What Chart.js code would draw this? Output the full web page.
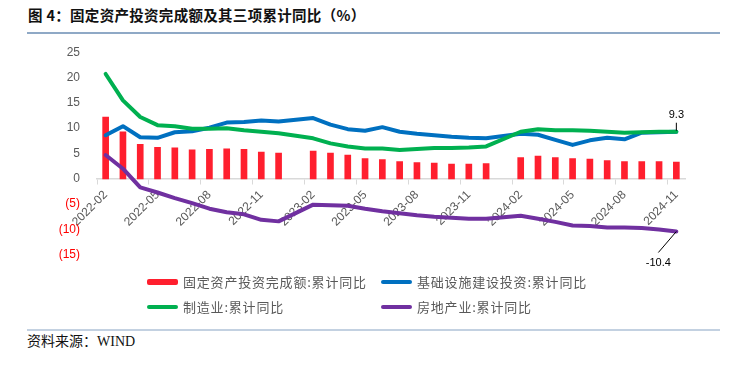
<!DOCTYPE html>
<html>
<head>
<meta charset="utf-8">
<script src="https://cdn.jsdelivr.net/npm/chart.js@4.4.1/dist/chart.umd.min.js"></script>
<style>
body{margin:0;width:730px;height:365px;background:#fff;position:relative;overflow:hidden;font-family:"Noto Sans CJK SC",sans-serif}
#title{position:absolute;left:28px;top:5px;font-size:14.5px;font-weight:bold;color:#111;letter-spacing:0.3px;white-space:nowrap;line-height:20px}
.rule{position:absolute;left:27px;width:693px;height:2px}
#box{position:absolute;left:0;top:28px;width:730px;height:251px}
.lg{position:absolute;font-size:13px;color:#595959;letter-spacing:0.8px;white-space:nowrap;line-height:16px}
.sw{position:absolute;width:31px;border-radius:2px}
#src{position:absolute;left:27px;top:332px;font-size:14px;color:#111;white-space:nowrap;line-height:20px;font-family:"Liberation Serif","Noto Sans CJK SC",serif}
</style>
</head>
<body>
<div id="title">图 4：固定资产投资完成额及其三项累计同比（%）</div>
<div class="rule" style="top:32px;background:#8fa9c6"></div>
<div id="box"><canvas id="chart"></canvas></div>

<div class="sw" style="left:147px;top:279px;height:6px;background:#ff1f2e"></div>
<div class="lg" style="left:183px;top:274px">固定资产投资完成额:累计同比</div>
<div class="sw" style="left:381px;top:280px;height:4px;background:#0070c0"></div>
<div class="lg" style="left:417px;top:274px">基础设施建设投资:累计同比</div>
<div class="sw" style="left:147px;top:305px;height:4px;background:#00b050"></div>
<div class="lg" style="left:183px;top:299px">制造业:累计同比</div>
<div class="sw" style="left:381px;top:305px;height:4px;background:#7030a0"></div>
<div class="lg" style="left:417px;top:299px">房地产业:累计同比</div>

<div class="rule" style="top:329px;background:#c3d1e1"></div>
<div id="src">资料来源：WIND</div>

<script>
var labels = [
    '2022-02','2022-03','2022-04','2022-05','2022-06','2022-07','2022-08','2022-09','2022-10','2022-11','2022-12',
    '2023-01','2023-02','2023-03','2023-04','2023-05','2023-06','2023-07','2023-08','2023-09','2023-10','2023-11','2023-12',
    '2024-01','2024-02','2024-03','2024-04','2024-05','2024-06','2024-07','2024-08','2024-09','2024-10','2024-11'
];

// 累计同比, %; January has no separate release
var fixedAsset = [12.2,9.3,6.8,6.2,6.1,5.7,5.8,5.9,5.8,5.3,5.1, null,
    5.5,5.1,4.7,4.0,3.8,3.4,3.2,3.1,2.9,2.9,3.0, null,
    4.2,4.5,4.2,4.0,3.9,3.6,3.4,3.4,3.4,3.3];
var infrastructure = [8.6,10.4,8.2,8.1,9.2,9.4,10.1,11.1,11.2,11.5,11.3, null,
    12.0,10.7,9.8,9.5,10.2,9.3,8.9,8.6,8.3,8.1,8.0, null,
    8.9,8.7,7.7,6.7,7.6,8.1,7.8,9.1,9.2,9.3];
var manufacturing = [20.7,15.5,12.2,10.6,10.4,9.9,9.9,10.0,9.6,9.3,9.0, null,
    8.0,7.0,6.4,6.0,6.0,5.7,5.9,6.1,6.1,6.2,6.4, null,
    9.3,9.8,9.6,9.6,9.5,9.3,9.1,9.2,9.3,9.3];
var realEstate = [4.7,2.0,-1.7,-2.7,-3.8,-4.8,-5.9,-6.6,-7.0,-8.1,-8.4, null,
    -5.1,-5.2,-5.3,-5.9,-6.4,-6.8,-7.2,-7.5,-7.7,-7.9,-7.9, null,
    -7.3,-7.9,-8.5,-9.2,-9.3,-9.6,-9.6,-9.7,-10.0,-10.4];

var tickFont = {family: 'Liberation Sans', size: 12};

// end-of-series callouts, Excel style
var endLabels = {
    id: 'endLabels',
    afterDatasetsDraw: function(chart){
        var ctx = chart.ctx;
        var x = chart.scales.x, y = chart.scales.y;
        var last = labels.length - 1;
        var px = x.getPixelForValue(last);
        var my = y.getPixelForValue(manufacturing[last]);
        var ry = y.getPixelForValue(realEstate[last]);
        ctx.save();
        ctx.strokeStyle = '#000';
        ctx.lineWidth = 1;
        ctx.beginPath();
        ctx.moveTo(px, my - 1);
        ctx.lineTo(px, my - 9);
        ctx.stroke();
        ctx.beginPath();
        ctx.moveTo(px, ry);
        ctx.lineTo(px - 18, ry + 21);
        ctx.stroke();
        ctx.fillStyle = '#000';
        ctx.font = '11px "Liberation Sans"';
        ctx.textAlign = 'center';
        ctx.textBaseline = 'middle';
        ctx.fillText(manufacturing[last].toFixed(1), px, my - 17);
        ctx.fillText(realEstate[last].toFixed(1), px - 18, ry + 31);
        ctx.restore();
    }
};

function lineSet(label, data, color, order){
    return {
        type: 'line',
        label: label,
        data: data,
        borderColor: color,
        backgroundColor: color,
        borderWidth: 4,
        pointRadius: 0,
        tension: 0,
        spanGaps: true,
        borderJoinStyle: 'round',
        borderCapStyle: 'round',
        order: order
    };
}

new Chart(document.getElementById('chart'), {
    type: 'bar',
    data: {
        labels: labels,
        datasets: [
            lineSet('制造业:累计同比', manufacturing, '#00b050', 1),
            lineSet('基础设施建设投资:累计同比', infrastructure, '#0070c0', 2),
            lineSet('房地产业:累计同比', realEstate, '#7030a0', 3),
            {
                type: 'bar',
                label: '固定资产投资完成额:累计同比',
                data: fixedAsset,
                backgroundColor: '#ff1f2e',
                barThickness: 6,
                order: 5
            }
        ]
    },
    options: {
        responsive: true,
        maintainAspectRatio: false,
        animation: false,
        layout: {padding: {left: 0, right: 45, top: 14, bottom: 19}},
        plugins: {
            legend: {display: false},
            tooltip: {enabled: false}
        },
        scales: {
            x: {
                position: {y: 0},
                offset: true,
                grid: {
                    offset: true,
                    drawOnChartArea: false,
                    drawTicks: true,
                    tickLength: 5,
                    color: function(c){
                        return (c.index !== undefined && c.index % 3 === 0) ? '#d9d9d9' : 'rgba(0,0,0,0)';
                    }
                },
                border: {color: '#d9d9d9', width: 1.5},
                ticks: {
                    autoSkip: false,
                    minRotation: 45,
                    maxRotation: 45,
                    padding: 4,
                    color: '#595959',
                    font: tickFont,
                    callback: function(v, i){
                        return i % 3 === 0 ? this.getLabelForValue(v) : '';
                    }
                }
            },
            y: {
                min: -15,
                max: 25,
                grid: {display: false, drawTicks: false},
                border: {display: false},
                ticks: {
                    stepSize: 5,
                    padding: 17,
                    font: tickFont,
                    color: function(c){ return c.tick.value < 0 ? '#ff0000' : '#595959'; },
                    callback: function(v){ return v < 0 ? '(' + (-v) + ')' : v; }
                },
                afterFit: function(s){ s.width = 97; }
            }
        }
    },
    plugins: [endLabels]
});
</script>
</body>
</html>
